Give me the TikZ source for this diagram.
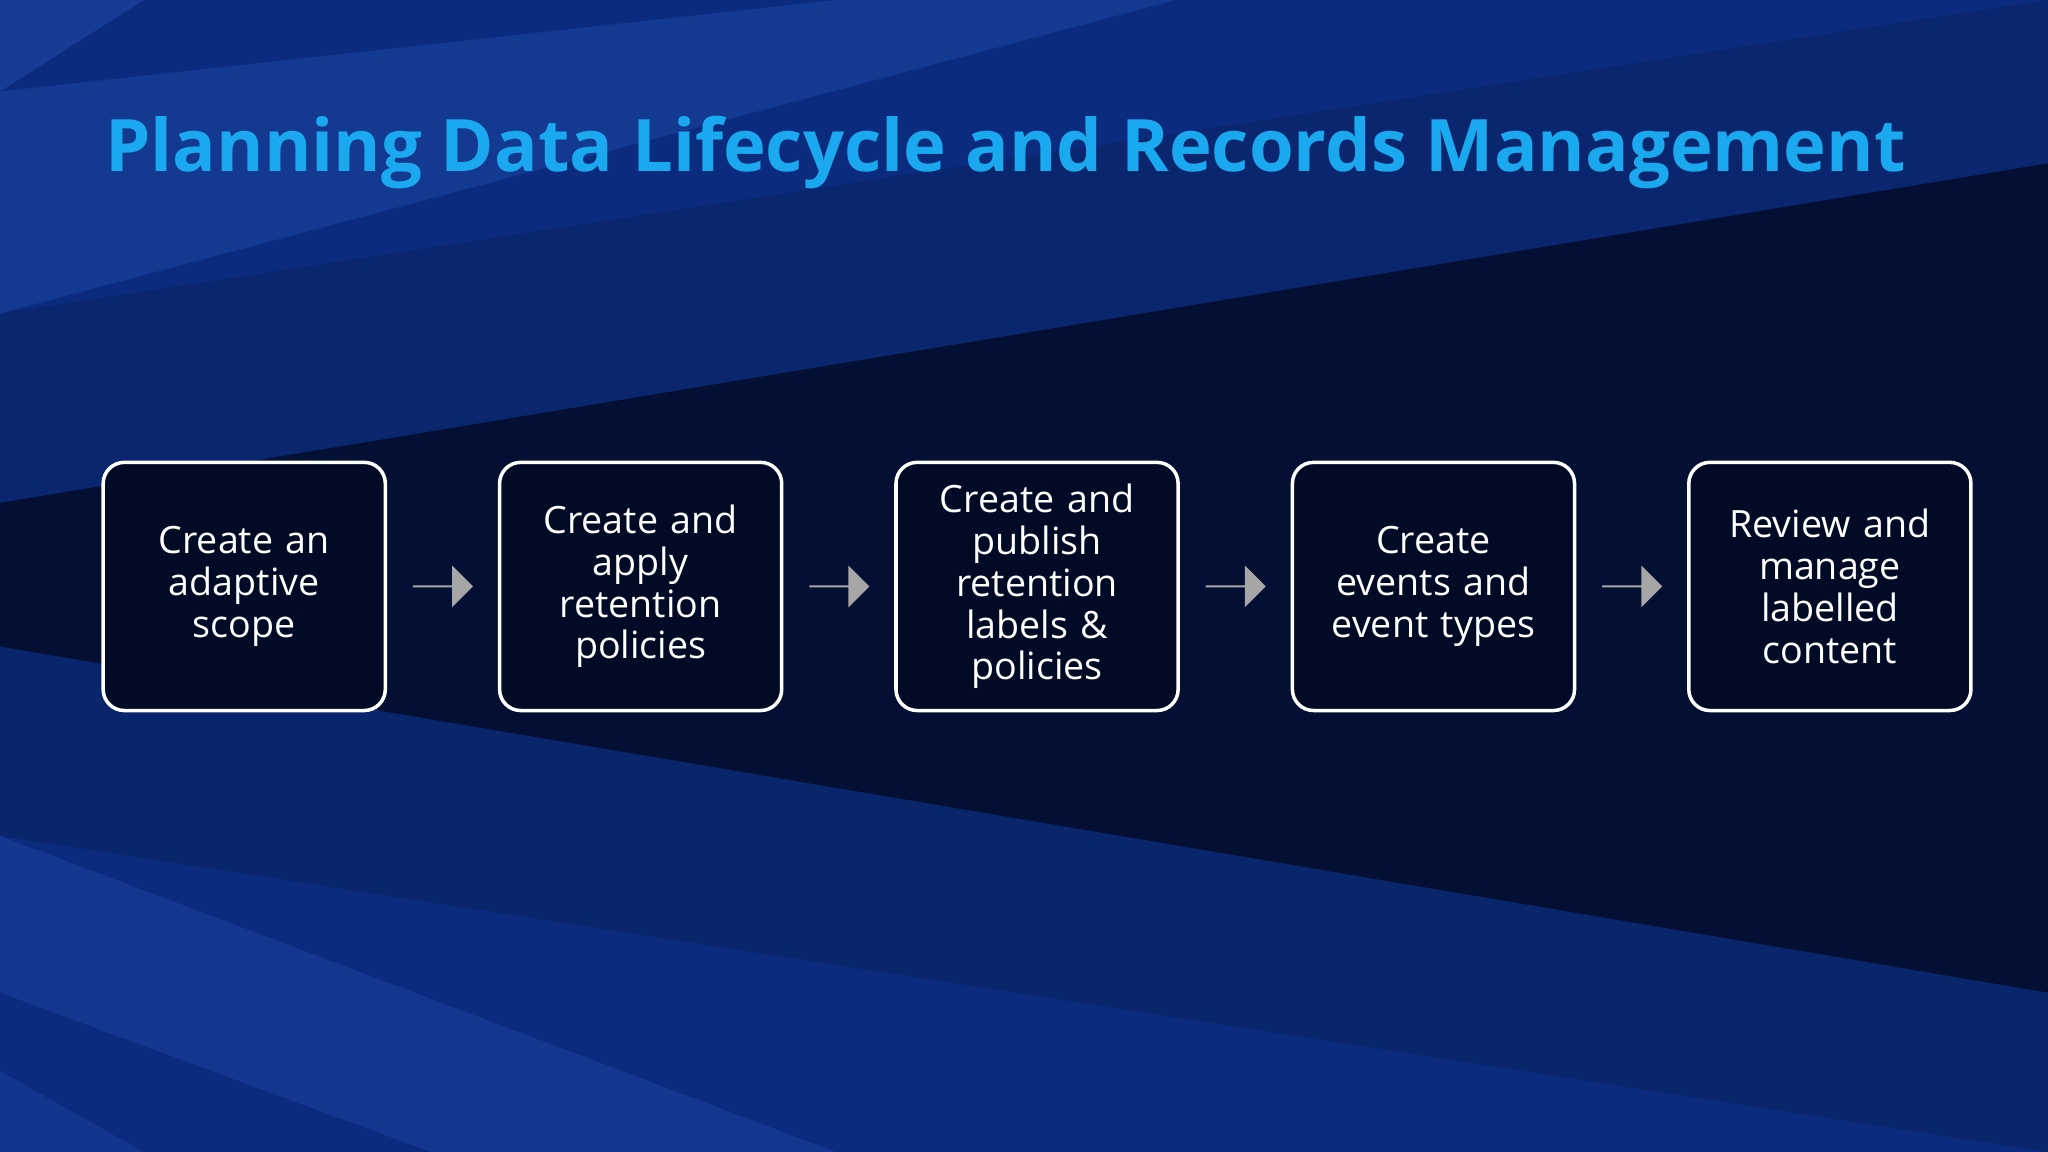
\documentclass[tikz,border=0pt]{standalone}
\usepackage{fontspec}
\setmainfont{Open Sans}
\usetikzlibrary{shapes.arrows,calc}
\definecolor{bgblue}{HTML}{0B2C7E}
\definecolor{bgdark}{HTML}{030F33}
\definecolor{bglight}{HTML}{163C96}
\definecolor{boxfill}{HTML}{020B26}
\definecolor{titleblue}{HTML}{1AA8EE}
\definecolor{arrowgray}{HTML}{A6A6A6}
\begin{document}
\begin{tikzpicture}[x=0.013061cm,y=-0.013061cm,
    stepbox/.style={draw=white, line width=1pt, fill=boxfill, rounded corners=6pt,
      minimum width=216*0.013061cm, minimum height=190*0.013061cm,
      text width=180*0.013061cm, align=center, text=white,
      font=\fontsize{10.7pt}{11.9pt}\selectfont},
    flowarrow/.style={single arrow, fill=arrowgray, draw=none,
      minimum width=32*0.013061cm, minimum height=46*0.013061cm,
      single arrow head extend=11*0.013061cm, inner sep=0pt, single arrow tip angle=90}]
  % background
  \fill[bgblue] (0,0) rectangle (1568,882);
  \fill[bglight] (0,0) -- (110,0) -- (0,70) -- cycle;
  \fill[bglight!80!bgblue] (0,70) -- (640,0) -- (900,0) -- (0,240) -- cycle;
  \fill[bglight!60!bgblue] (0,820) -- (110,882) -- (0,882) -- cycle;
  \fill[bglight!70!bgblue] (0,640) -- (640,882) -- (330,882) -- (0,760) -- cycle;
  \fill[bgblue!80!bgdark] (0,240) -- (1568,0) -- (1568,125) -- (0,385) -- cycle;
  \fill[bgblue!75!bgdark] (0,495) -- (1568,760) -- (1568,882) -- (0,640) -- cycle;
  \fill[bgdark] (0,385) -- (1568,125) -- (1568,760) -- (0,495) -- cycle;
  \useasboundingbox (0,0) rectangle (1568,882);
  % title
  \node[anchor=west, text=titleblue, inner sep=0pt, font=\bfseries\fontsize{20.6pt}{24pt}\selectfont]
    (title) at (80,117) {Planning Data Lifecycle and Records Management};
  % steps
  \node[stepbox] (s1) at (187,449) {Create an\\adaptive\\scope};
  \node[stepbox] (s2) at (490.5,449) {Create and\\apply\\retention\\policies};
  \node[stepbox] (s3) at (794,449) {Create and\\publish\\retention\\labels \&\\policies};
  \node[stepbox] (s4) at (1097.5,449) {Create\\events and\\event types};
  \node[stepbox] (s5) at (1401,449) {Review and\\manage\\labelled\\content};
  % arrows
  \foreach \a/\b in {s1/s2, s2/s3, s3/s4, s4/s5}
    \node[flowarrow] (arr-\a) at ($(\a.east)!0.5!(\b.west)$) {};
\end{tikzpicture}
\end{document}
